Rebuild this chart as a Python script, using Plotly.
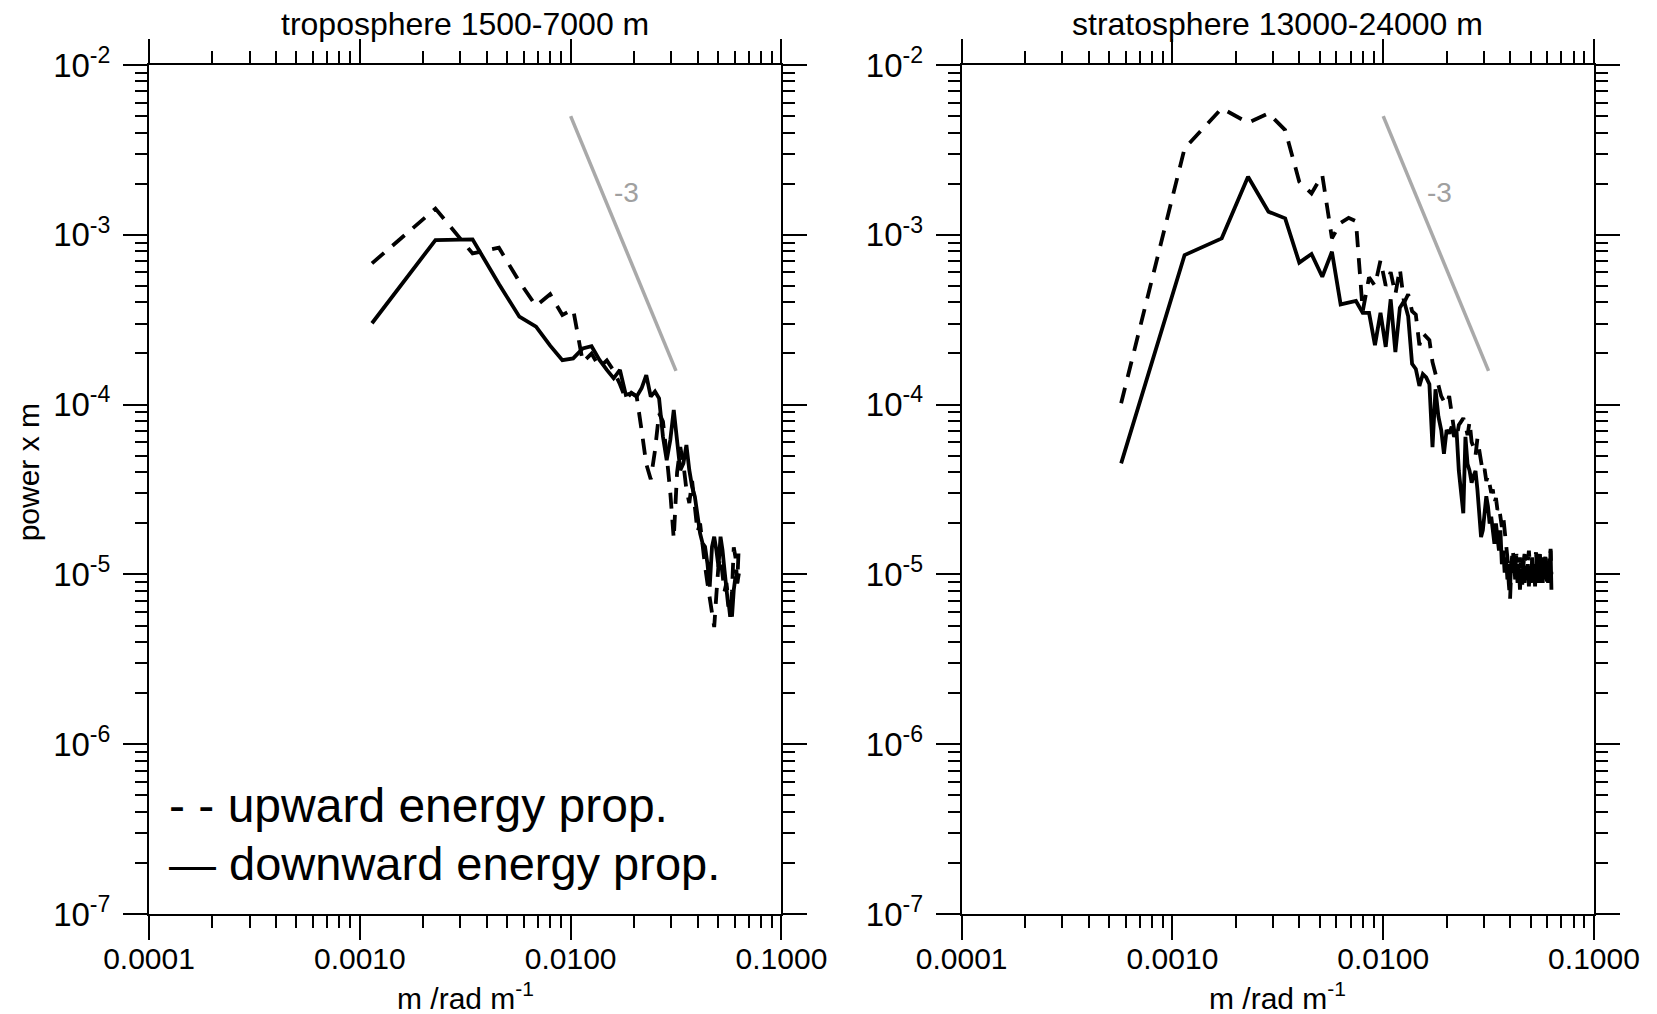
import numpy as np
import plotly.graph_objects as go

# ---------------- data ----------------
# wavenumber grids: fundamental spacing (rad/m) and harmonic indices
tropo_dm = 0.001142
strato_dm = 0.000571
tropo_k = list(range(1, 56))
strato_k = list(range(1, 111))

# power x m, given as log10 values
tropo_up_log10 = [
    -3.168, -2.846, -3.110, -3.076, -3.276, -3.419, -3.350, -3.472, -3.439, -3.750,
    -3.700, -3.780, -3.740, -3.800, -3.880, -3.970, -3.930, -3.950, -4.150, -4.350,
    -4.440, -4.270, -4.050, -4.100, -4.300, -4.520, -4.790, -4.400, -4.250, -4.350,
    -4.500, -4.580, -4.450, -4.600, -4.750, -4.700, -4.850, -4.950, -5.050, -5.150,
    -5.220, -5.310, -5.120, -4.950, -4.900, -5.000, -5.100, -5.050, -5.180, -5.250,
    -5.100, -4.840, -4.900, -5.050, -4.820]
tropo_down_log10 = [
    -3.521, -3.031, -3.027, -3.290, -3.482, -3.541, -3.653, -3.738, -3.728, -3.669,
    -3.656, -3.737, -3.796, -3.845, -3.796, -3.943, -3.933, -3.953, -3.904, -3.826,
    -3.953, -3.923, -3.963, -4.189, -4.327, -4.209, -4.032, -4.209, -4.386, -4.346,
    -4.238, -4.386, -4.484, -4.542, -4.660, -4.759, -4.818, -4.837, -4.935, -5.072,
    -4.837, -4.778, -4.857, -4.955, -4.778, -4.857, -4.975, -5.092, -5.190, -5.151,
    -5.249, -5.092, -5.013, -5.053, -4.994]
strato_up_log10 = [
    -3.992, -2.491, -2.255, -2.340, -2.285, -2.383, -2.687, -2.756, -2.648, -3.020,
    -2.930, -2.900, -2.920, -3.450, -3.250, -3.300, -3.150, -3.300, -3.220, -3.350,
    -3.200, -3.400, -3.350, -3.450, -3.470, -3.650, -3.580, -3.600, -3.620, -3.750,
    -3.820, -3.900, -3.950, -3.980, -4.000, -3.950, -4.050, -4.150, -4.200, -4.120,
    -4.100, -4.080, -4.120, -4.180, -4.100, -4.220, -4.250, -4.300, -4.200, -4.280,
    -4.350, -4.400, -4.380, -4.450, -4.420, -4.480, -4.520, -4.500, -4.580, -4.550,
    -4.620, -4.600, -4.680, -4.720, -4.660, -4.750, -4.800, -4.900, -5.050, -5.150,
    -4.950, -4.850, -4.920, -5.000, -4.880, -4.950, -5.020, -4.900, -4.980, -5.060,
    -4.930, -4.880, -4.970, -5.030, -4.920, -4.860, -4.950, -5.020, -4.900, -4.960,
    -5.040, -4.910, -4.870, -4.980, -5.050, -4.920, -4.880, -4.960, -5.030, -4.900,
    -4.940, -5.020, -4.890, -4.950, -5.060, -4.920, -4.880, -4.970, -4.850, -5.000]
strato_down_log10 = [
    -4.346, -3.119, -3.021, -2.658, -2.864, -2.903, -3.164, -3.113, -3.247, -3.100,
    -3.410, -3.400, -3.390, -3.460, -3.460, -3.650, -3.460, -3.660, -3.380, -3.690,
    -3.430, -3.390, -3.480, -3.760, -3.790, -3.890, -3.820, -3.840, -3.880, -4.250,
    -3.910, -4.070, -4.150, -4.290, -4.150, -4.170, -4.130, -4.190, -4.150, -4.390,
    -4.520, -4.640, -4.190, -4.350, -4.390, -4.460, -4.420, -4.390, -4.500, -4.640,
    -4.780, -4.740, -4.620, -4.540, -4.600, -4.700, -4.660, -4.740, -4.820, -4.700,
    -4.780, -4.860, -4.740, -4.940, -4.860, -4.990, -4.900, -5.030, -4.940, -5.070,
    -4.920, -4.990, -4.900, -5.030, -4.950, -5.050, -4.940, -5.090, -4.970, -5.030,
    -4.920, -5.050, -4.950, -5.010, -4.940, -5.070, -4.970, -5.050, -4.920, -5.030,
    -4.950, -5.070, -4.940, -5.010, -4.900, -5.050, -4.950, -5.030, -4.920, -5.050,
    -4.940, -5.010, -4.900, -5.030, -4.940, -5.050, -4.920, -5.010, -4.860, -5.090]

# reference slope (-3) line
slope_x = [0.01, 0.0316]
slope_y = [5.0e-3, 1.58e-4]

x_tickvals = [1e-4, 1e-3, 1e-2, 1e-1]
x_ticktext = ["0.0001", "0.0010", "0.0100", "0.1000"]
y_tickvals = [1e-7, 1e-6, 1e-5, 1e-4, 1e-3, 1e-2]
y_ticktext = ["10<sup>-7</sup>", "10<sup>-6</sup>", "10<sup>-5</sup>",
              "10<sup>-4</sup>", "10<sup>-3</sup>", "10<sup>-2</sup>"]
titles = ["troposphere 1500-7000 m", "stratosphere 13000-24000 m"]

# ---------------- figure ----------------
FONT = "Liberation Sans, Arial, Helvetica, sans-serif"
tropo_m = np.array(tropo_k) * tropo_dm
strato_m = np.array(strato_k) * strato_dm

fig = go.Figure()
panels = [
    ("x", "y", tropo_m, tropo_up_log10, tropo_down_log10),
    ("x2", "y2", strato_m, strato_up_log10, strato_down_log10),
]
for xa, ya, m, up, down in panels:
    fig.add_trace(go.Scatter(x=m, y=10 ** np.array(up), mode="lines",
                             line=dict(color="black", width=3.8, dash="16px,11px"),
                             xaxis=xa, yaxis=ya, showlegend=False))
    fig.add_trace(go.Scatter(x=m, y=10 ** np.array(down), mode="lines",
                             line=dict(color="black", width=3.8),
                             xaxis=xa, yaxis=ya, showlegend=False))
    fig.add_trace(go.Scatter(x=slope_x, y=slope_y, mode="lines",
                             line=dict(color="#a9a9a9", width=3.5),
                             xaxis=xa, yaxis=ya, showlegend=False))

x_minor = [d * 10.0 ** e for e in range(-4, -1) for d in range(2, 10)]
y_minor = [d * 10.0 ** e for e in range(-7, -2) for d in range(2, 10)]

common_x = dict(type="log", range=[-4, -1], tickmode="array", tickvals=x_tickvals,
                ticktext=x_ticktext, ticks="outside", ticklen=24, tickwidth=2,
                tickcolor="black", showline=True, linewidth=2, linecolor="black",
                mirror="ticks", showgrid=False, zeroline=False, ticklabelstandoff=-7,
                tickfont=dict(size=30, color="black", family=FONT),
                minor=dict(ticks="outside", ticklen=12, tickwidth=2, tickcolor="black",
                           tickmode="array", tickvals=x_minor, showgrid=False))
common_y = dict(type="log", range=[-7, -2], tickmode="array", tickvals=y_tickvals,
                ticktext=y_ticktext, ticks="outside", ticklen=24, tickwidth=2,
                tickcolor="black", showline=True, linewidth=2, linecolor="black",
                mirror="ticks", showgrid=False, zeroline=False, ticklabelstandoff=6,
                tickfont=dict(size=33, color="black", family=FONT),
                minor=dict(ticks="outside", ticklen=12, tickwidth=2, tickcolor="black",
                           tickmode="array", tickvals=y_minor, showgrid=False))

fig.update_layout(
    width=1657, height=1014,
    margin=dict(l=149, r=63, t=65, b=100),
    paper_bgcolor="white", plot_bgcolor="white",
    font=dict(family=FONT, color="black"),
    xaxis=dict(domain=[0, 0.4377], anchor="y", **common_x),
    yaxis=dict(domain=[0, 1], anchor="x", **common_y),
    xaxis2=dict(domain=[0.5624, 1], anchor="y2", **common_x),
    yaxis2=dict(domain=[0, 1], anchor="x2", **common_y),
)

ann = []
for i, (xr, yr) in enumerate([("x domain", "y domain"), ("x2 domain", "y2 domain")]):
    ann.append(dict(text=titles[i], xref=xr, yref=yr, x=0.5, y=1.048,
                    xanchor="center", yanchor="middle", showarrow=False,
                    font=dict(size=32, family=FONT, color="black")))
    ann.append(dict(text="m /rad m<sup>-1</sup>", xref=xr, yref=yr, x=0.5, y=-0.097,
                    xanchor="center", yanchor="middle", showarrow=False,
                    font=dict(size=30, family=FONT, color="black")))
    xa = "x" if i == 0 else "x2"
    ya = "y" if i == 0 else "y2"
    ann.append(dict(text="-3", xref=xa, yref=ya, x=-1.735, y=-2.75,
                    xanchor="center", yanchor="middle", showarrow=False,
                    font=dict(size=28, family=FONT, color="#a0a0a0")))

ann.append(dict(text="power x m", xref="x domain", yref="y domain", x=-0.19, y=0.52,
                xanchor="center", yanchor="middle", textangle=-90, showarrow=False,
                font=dict(size=30, family=FONT, color="black")))
ann.append(dict(text="- - upward energy prop.", xref="x domain", yref="y domain",
                x=0.028, y=0.128, xanchor="left", yanchor="middle", showarrow=False,
                font=dict(size=48, family=FONT, color="black")))
ann.append(dict(text="\u2014 downward energy prop.", xref="x domain", yref="y domain",
                x=0.028, y=0.059, xanchor="left", yanchor="middle", showarrow=False,
                font=dict(size=47, family=FONT, color="black")))
fig.update_layout(annotations=ann)

fig.write_html("out.html")
